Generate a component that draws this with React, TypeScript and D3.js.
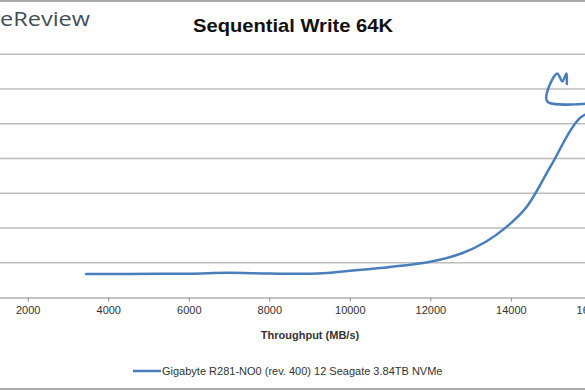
import React, { useEffect, useRef } from "react";
import * as d3 from "d3";

// throughput (MB/s) and average latency (ms)
const throughput = [
  3450, 4500, 6000, 7000, 8000, 9200, 10000, 11000, 12000, 12800, 13400,
  13900, 14400, 15000, 15700, 16300, 14900, 15150, 15280, 15380, 15390,
];
const latency = [
  0.68, 0.68, 0.685, 0.71, 0.69, 0.69, 0.77, 0.88, 1.03, 1.28, 1.62, 2.04,
  2.62, 3.8, 5.15, 5.55, 5.65, 6.45, 6.22, 6.45, 6.15,
];
const xTicks = [2000, 4000, 6000, 8000, 10000, 12000, 14000, 16000];
const yTicks = [1, 2, 3, 4, 5, 6, 7];
const seriesName = "Gigabyte R281-NO0 (rev. 400) 12 Seagate 3.84TB NVMe";

const W = 585;
const H = 390;

const App = () => {
  const svgRef = useRef<SVGSVGElement | null>(null);

  useEffect(() => {
    const svg = d3.select(svgRef.current);
    svg.selectAll("*").remove();

    const font = "'Liberation Sans', Arial, sans-serif";

    // plot area runs past both edges of the picture
    const x = d3.scaleLinear().domain([0, 18000]).range([-52.8, 671.9]);
    const y = d3.scaleLinear().domain([0, 7]).range([297.5, 54.3]);

    svg.append("rect").attr("width", W).attr("height", H).attr("fill", "#fff");

    // frame lines
    svg.append("line").attr("x1", 0).attr("x2", W).attr("y1", 1).attr("y2", 1)
      .attr("stroke", "#8c8c8c").attr("stroke-width", 1.5);
    svg.append("line").attr("x1", 0).attr("x2", W).attr("y1", 389).attr("y2", 389)
      .attr("stroke", "#8c8c8c").attr("stroke-width", 1.5);

    // gridlines
    svg.append("g")
      .selectAll("line")
      .data(yTicks)
      .enter()
      .append("line")
      .attr("x1", x(0))
      .attr("x2", x(18000))
      .attr("y1", (d) => y(d))
      .attr("y2", (d) => y(d))
      .attr("stroke", "#bdbdbd")
      .attr("stroke-width", 1.5);

    // x axis
    const xAxis = d3
      .axisBottom(x)
      .tickValues(xTicks)
      .tickFormat(d3.format("d"))
      .tickSize(4)
      .tickSizeOuter(0)
      .tickPadding(5);
    const gx = svg.append("g").attr("transform", `translate(0, ${y(0)})`).call(xAxis);
    gx.select(".domain").attr("stroke", "#b0b0b0").attr("stroke-width", 1.5);
    gx.selectAll(".tick line").attr("stroke", "#8c8c8c");
    gx.selectAll(".tick text")
      .attr("fill", "#333")
      .attr("font-family", font)
      .attr("font-size", 11);

    svg.append("text")
      .attr("x", 310)
      .attr("y", 339)
      .attr("text-anchor", "middle")
      .attr("font-family", font)
      .attr("font-weight", "bold")
      .attr("font-size", 11)
      .attr("fill", "#333")
      .text("Throughput (MB/s)");

    // series
    const pts: [number, number][] = throughput.map((t, i) => [t, latency[i]]);
    const line = d3
      .line<[number, number]>()
      .x((d) => x(d[0]))
      .y((d) => y(d[1]))
      .curve(d3.curveCatmullRom.alpha(0.5));

    svg.append("path")
      .datum(pts)
      .attr("d", line)
      .attr("fill", "none")
      .attr("stroke", "#4a7ebb")
      .attr("stroke-width", 2.5)
      .attr("stroke-linecap", "round")
      .attr("stroke-linejoin", "round");

    // title and (cropped) logo
    svg.append("text")
      .attr("x", 293)
      .attr("y", 32)
      .attr("text-anchor", "middle")
      .attr("font-family", font)
      .attr("font-weight", "bold")
      .attr("font-size", 19)
      .attr("textLength", 200)
      .attr("lengthAdjust", "spacingAndGlyphs")
      .attr("fill", "#111")
      .text("Sequential Write 64K");

    svg.append("text")
      .attr("x", 0)
      .attr("y", 26)
      .attr("font-family", "'Open Sans', sans-serif")
      .attr("font-size", 20)
      .attr("textLength", 90)
      .attr("lengthAdjust", "spacingAndGlyphs")
      .attr("fill", "#3e4f58")
      .text("eReview");

    // legend
    const lg = svg.append("g").attr("transform", "translate(133, 371)");
    lg.append("line").attr("x1", 0).attr("x2", 28).attr("stroke", "#4a7ebb").attr("stroke-width", 2.5);
    lg.append("text")
      .attr("x", 29)
      .attr("y", 4)
      .attr("font-family", font)
      .attr("font-size", 11)
      .attr("fill", "#333")
      .text(seriesName);
  }, []);

  return (
    <svg
      ref={svgRef}
      width={W}
      height={H}
      style={{ position: "absolute", left: 0, top: 0, display: "block" }}
    />
  );
};

export default App;
